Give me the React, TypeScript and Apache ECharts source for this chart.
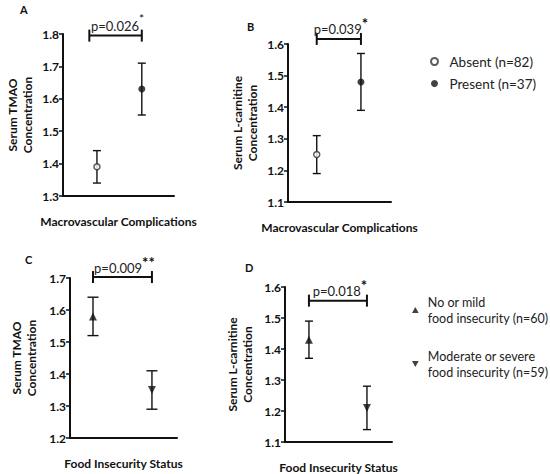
import React, { useEffect, useRef } from "react";
import * as echarts from "echarts";

// ---------- DATA ----------
const groupsMacro = ["Absent (n=82)", "Present (n=37)"];
const groupsFood = [
  "No or mild food insecurity (n=60)",
  "Moderate or severe food insecurity (n=59)",
];

// Panel A: Serum TMAO by macrovascular complications
const tmaoMacroMean = [1.39, 1.63];
const tmaoMacroLow = [1.34, 1.55];
const tmaoMacroHigh = [1.44, 1.71];
// Panel B: Serum L-carnitine by macrovascular complications
const carnMacroMean = [1.25, 1.48];
const carnMacroLow = [1.19, 1.39];
const carnMacroHigh = [1.31, 1.57];
// Panel C: Serum TMAO by food insecurity
const tmaoFoodMean = [1.58, 1.35];
const tmaoFoodLow = [1.52, 1.29];
const tmaoFoodHigh = [1.64, 1.41];
// Panel D: Serum L-carnitine by food insecurity
const carnFoodMean = [1.43, 1.21];
const carnFoodLow = [1.37, 1.14];
const carnFoodHigh = [1.49, 1.28];

const pValues = ["p=0.026", "p=0.039", "p=0.009", "p=0.018"];
const stars = ["*", "*", "**", "*"];
const bracketLevels = [1.795, 1.616, 1.703, 1.556];
const bracketStarts = [-0.17, 0, 0, 0];
const bracketEnds = [1, 1, 1, 1];
const yMins = [1.3, 1.1, 1.2, 1.1];
const yMaxs = [1.8, 1.6, 1.7, 1.6];
const yTitles = [
  "Serum TMAO\nConcentration",
  "Serum L-carnitine\nConcentration",
  "Serum TMAO\nConcentration",
  "Serum L-carnitine\nConcentration",
];
const xTitles = [
  "Macrovascular Complications",
  "Macrovascular Complications",
  "Food Insecurity Status",
  "Food Insecurity Status",
];
const panelLetters = ["A", "B", "C", "D"];

// ---------- LAYOUT ----------
const FONT = "Lato, 'Open Sans', sans-serif";
const INK = "#111";
const grids = [
  { left: 63, top: 34, width: 111, height: 162 },
  { left: 288, top: 44, width: 103, height: 158 },
  { left: 70, top: 278, width: 107, height: 160 },
  { left: 285, top: 287, width: 107, height: 157 },
];
const xRanges = [
  [-0.757, 1.718],
  [-0.65, 1.68],
  [-0.39, 1.425],
  [-0.413, 1.432],
];
const yNameGaps = [28, 28, 31, 30];
const capWidths = [8, 8, 11, 8];
const letterPos = [
  [24, 10],
  [251, 27],
  [29, 260],
  [249, 268],
];
const starStyles = [
  { fontSize: 12, fontWeight: "normal" },
  { fontSize: 15, fontWeight: "bold" },
  { fontSize: 15, fontWeight: "bold" },
  { fontSize: 15, fontWeight: "bold" },
];

const panels = [
  { mean: tmaoMacroMean, low: tmaoMacroLow, high: tmaoMacroHigh, names: groupsMacro, kind: "macro" },
  { mean: carnMacroMean, low: carnMacroLow, high: carnMacroHigh, names: groupsMacro, kind: "macro" },
  { mean: tmaoFoodMean, low: tmaoFoodLow, high: tmaoFoodHigh, names: groupsFood, kind: "food" },
  { mean: carnFoodMean, low: carnFoodLow, high: carnFoodHigh, names: groupsFood, kind: "food" },
];

function markerStyle(kind: string, i: number) {
  if (kind === "macro") {
    if (i === 0)
      return {
        symbol: "circle",
        symbolSize: 6,
        symbolRotate: 0,
        itemStyle: { color: "#fff", borderColor: "#333", borderWidth: 1.5 },
      };
    return { symbol: "circle", symbolSize: 7, symbolRotate: 0, itemStyle: { color: INK } };
  }
  if (i === 0)
    return { symbol: "triangle", symbolSize: [8, 8], symbolRotate: 0, itemStyle: { color: INK } };
  return { symbol: "triangle", symbolSize: [8, 8], symbolRotate: 180, itemStyle: { color: INK } };
}

function buildOption() {
  const gridOpts: any[] = [];
  const xAxes: any[] = [];
  const yAxes: any[] = [];
  const series: any[] = [];

  panels.forEach((p, k) => {
    gridOpts.push({ ...grids[k], containLabel: false });
    xAxes.push({
      type: "value",
      gridIndex: k,
      min: xRanges[k][0],
      max: xRanges[k][1],
      axisLine: { show: true, onZero: false, lineStyle: { color: INK, width: 2 } },
      axisTick: { show: false },
      axisLabel: { show: false },
      splitLine: { show: false },
      name: xTitles[k],
      nameLocation: "middle",
      nameGap: 19,
      nameTextStyle: { fontFamily: FONT, fontWeight: "bold", fontSize: 12, color: INK },
    });
    yAxes.push({
      type: "value",
      gridIndex: k,
      min: yMins[k],
      max: yMaxs[k],
      interval: 0.1,
      axisLine: { show: true, onZero: false, lineStyle: { color: INK, width: 2 } },
      axisTick: { show: true, length: 4, lineStyle: { color: INK, width: 1.5 } },
      splitLine: { show: false },
      axisLabel: {
        formatter: (v: number) => v.toFixed(1),
        fontFamily: FONT,
        fontWeight: "bold",
        fontSize: 12,
        color: INK,
        margin: 4,
      },
      name: yTitles[k],
      nameLocation: "middle",
      nameRotate: 90,
      nameGap: yNameGaps[k],
      nameTextStyle: { fontFamily: FONT, fontWeight: "bold", fontSize: 12, color: INK, lineHeight: 15 },
    });

    // error bars
    const cap = capWidths[k];
    series.push({
      type: "custom",
      xAxisIndex: k,
      yAxisIndex: k,
      z: 2,
      silent: true,
      data: p.mean.map((_, i) => [i, p.low[i], p.high[i]]),
      renderItem: (params: any, api: any) => {
        const x = api.value(0);
        const a = api.coord([x, api.value(1)]);
        const b = api.coord([x, api.value(2)]);
        const st = { stroke: INK, lineWidth: 1.4 };
        return {
          type: "group",
          children: [
            { type: "line", shape: { x1: a[0], y1: a[1], x2: b[0], y2: b[1] }, style: st },
            { type: "line", shape: { x1: a[0] - cap / 2, y1: a[1], x2: a[0] + cap / 2, y2: a[1] }, style: st },
            { type: "line", shape: { x1: b[0] - cap / 2, y1: b[1], x2: b[0] + cap / 2, y2: b[1] }, style: st },
          ],
        };
      },
    });

    // markers
    p.mean.forEach((m, i) => {
      series.push({
        type: "scatter",
        name: p.names[i],
        xAxisIndex: k,
        yAxisIndex: k,
        z: 5,
        ...markerStyle(p.kind, i),
        data: [[i, m]],
      });
    });

    // significance bracket
    const ss = starStyles[k];
    series.push({
      type: "custom",
      xAxisIndex: k,
      yAxisIndex: k,
      z: 3,
      silent: true,
      clip: false,
      data: [[bracketStarts[k], bracketEnds[k], bracketLevels[k]]],
      renderItem: (params: any, api: any) => {
        const a = api.coord([api.value(0), api.value(2)]);
        const b = api.coord([api.value(1), api.value(2)]);
        const st = { stroke: INK, lineWidth: 2 };
        return {
          type: "group",
          children: [
            { type: "line", shape: { x1: a[0], y1: a[1], x2: b[0], y2: b[1] }, style: st },
            { type: "line", shape: { x1: a[0], y1: a[1] - 6, x2: a[0], y2: a[1] + 6 }, style: st },
            { type: "line", shape: { x1: b[0], y1: b[1] - 6, x2: b[0], y2: b[1] + 6 }, style: st },
            {
              type: "text",
              x: (a[0] + b[0]) / 2 + 2,
              y: a[1] - 3,
              style: {
                text: `{p|${pValues[k]}}{s|${stars[k]}}`,
                align: "center",
                verticalAlign: "bottom",
                rich: {
                  p: {
                    fontFamily: FONT,
                    fontSize: 13,
                    fill: "#222",
                    lineHeight: 20,
                    verticalAlign: "bottom",
                  },
                  s: {
                    fontFamily: FONT,
                    fontSize: ss.fontSize,
                    fontWeight: ss.fontWeight,
                    fill: INK,
                    lineHeight: 20,
                    verticalAlign: "top",
                  },
                },
              },
            },
          ],
        };
      },
    });
  });

  return {
    animation: false,
    backgroundColor: "#fff",
    grid: gridOpts,
    xAxis: xAxes,
    yAxis: yAxes,
    series,
    legend: [
      {
        data: groupsMacro,
        orient: "vertical",
        left: 425,
        top: 49,
        itemWidth: 20,
        itemHeight: 7,
        itemGap: 7,
        selectedMode: false,
        textStyle: { fontFamily: FONT, fontSize: 13.5, color: "#222", lineHeight: 15 },
      },
      {
        data: [
          { name: groupsFood[0], icon: "path://M5,0 L10,9 L0,9 Z" },
          { name: groupsFood[1], icon: "path://M0,0 L10,0 L5,9 Z" },
        ],
        orient: "vertical",
        left: 407,
        top: 289,
        itemWidth: 7,
        itemHeight: 6,
        itemGap: 22,
        selectedMode: false,
        formatter: (name: string) => name.replace(" food", "\nfood"),
        textStyle: {
          fontFamily: FONT,
          fontSize: 12.5,
          color: "#222",
          lineHeight: 16,
          padding: [0, 0, 0, 4],
        },
      },
    ],
    graphic: panelLetters.map((t, k) => ({
      type: "text",
      left: letterPos[k][0] - 4,
      top: letterPos[k][1] - 6,
      style: { text: t, fontFamily: FONT, fontWeight: "bold", fontSize: 11, fill: INK },
    })),
  };
}

export default function App() {
  const ref = useRef<HTMLDivElement>(null);
  useEffect(() => {
    document.body.style.margin = "0";
    if (!ref.current) return;
    const chart = echarts.init(ref.current, undefined, { renderer: "svg" });
    chart.setOption(buildOption() as any);
    return () => chart.dispose();
  }, []);
  return <div ref={ref} style={{ width: 550, height: 474 }} />;
}
